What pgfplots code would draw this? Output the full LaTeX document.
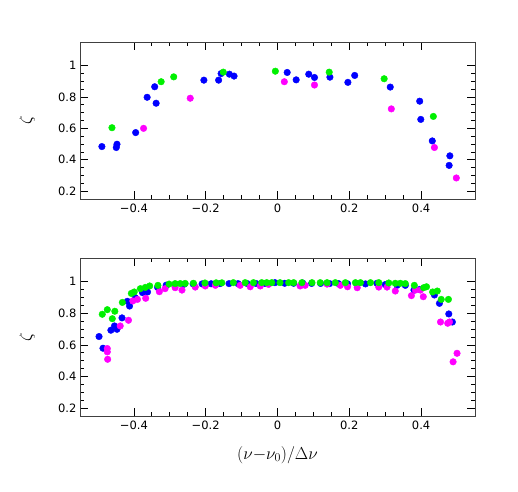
\documentclass[border=0pt]{standalone}
\usepackage{fontspec}
\setmainfont{DejaVu Sans}
\usepackage{pgfplots}
\pgfplotsset{compat=1.18}
\definecolor{pblue}{RGB}{0,0,255}
\definecolor{pgreen}{RGB}{0,240,0}
\definecolor{pmag}{RGB}{255,0,255}
\pgfplotsset{
  panel/.style={
    scale only axis, width=395pt, height=157pt,
    xmin=-0.55, xmax=0.55, ymin=0.15, ymax=1.15,
    xtick={-0.4,-0.2,0,0.2,0.4},
    xticklabels={−0.4,−0.2,0,0.2,0.4},
    ytick={0.2,0.4,0.6,0.8,1},
    yticklabels={0.2,0.4,0.6,0.8,1},
    minor x tick num=3, minor y tick num=3,
    major tick length=8pt, minor tick length=4pt,
    tick align=inside,
    tick style={black, line width=0.7pt},
    axis line style={line width=0.9pt, black!75},
    tick label style={font=\fontsize{11.5}{13}\selectfont},
    xticklabel style={yshift=-1pt},
    /pgf/number format/assume math mode=true,
    ylabel={$\zeta$},
    ylabel style={font=\fontsize{18}{20}\selectfont, at={(axis description cs:-0.134,0.5)}, anchor=center},
    every axis plot/.append style={only marks, mark=*, mark size=3.3pt},
  },
}
\begin{document}
\begin{tikzpicture}
\useasboundingbox (0,0) rectangle (518pt,-491pt);
% top panel
\begin{axis}[panel, at={(80pt,-199pt)}, anchor=south west]
\addplot[pblue, mark options={fill=pblue, draw=pblue}] coordinates {
(-0.489,0.484) (-0.447,0.499) (-0.449,0.478) (-0.395,0.573) (-0.363,0.798)
(-0.342,0.865) (-0.338,0.760) (-0.205,0.907) (-0.164,0.907) (-0.157,0.949)
(-0.134,0.945) (-0.121,0.933) (0.027,0.956) (0.052,0.909) (0.087,0.945)
(0.103,0.924) (0.146,0.926) (0.196,0.893) (0.215,0.937) (0.314,0.863)
(0.396,0.773) (0.399,0.657) (0.431,0.520) (0.480,0.425) (0.478,0.364)
};
\addplot[pmag, mark options={fill=pmag, draw=pmag}] coordinates {
(-0.373,0.600) (-0.243,0.792) (0.019,0.897) (0.103,0.876) (0.317,0.724)
(0.437,0.478) (0.498,0.284)
};
\addplot[pgreen, mark options={fill=pgreen, draw=pgreen}] coordinates {
(-0.461,0.604) (-0.324,0.897) (-0.289,0.928) (-0.151,0.958) (-0.006,0.964)
(0.144,0.958) (0.297,0.916) (0.434,0.676)
};
\end{axis}
% bottom panel
\begin{axis}[panel, at={(80pt,-416pt)}, anchor=south west,
  height=158pt,
  xlabel={$(\nu{-}\nu_0)/\Delta\nu$},
  xlabel style={font=\fontsize{18}{20}\selectfont, at={(axis description cs:0.5,-0.247)}, anchor=center}]
\addplot[pblue, mark options={fill=pblue, draw=pblue}] coordinates {
(-0.497,0.653) (-0.486,0.579) (-0.464,0.693) (-0.454,0.720) (-0.447,0.699)
(-0.433,0.771) (-0.418,0.876) (-0.412,0.846) (-0.396,0.899) (-0.376,0.931)
(-0.362,0.935) (-0.334,0.964) (-0.310,0.978) (-0.285,0.982) (-0.260,0.984)
(-0.235,0.986) (-0.210,0.986) (-0.185,0.987) (-0.160,0.988) (-0.135,0.988)
(-0.110,0.988) (-0.085,0.989) (-0.060,0.989) (-0.035,0.989) (-0.007,0.994)
(0.020,0.990) (0.045,0.990) (0.070,0.992) (0.095,0.989) (0.120,0.989)
(0.145,0.988) (0.170,0.988) (0.195,0.987) (0.220,0.987) (0.245,0.986)
(0.277,0.990) (0.300,0.982) (0.333,0.977) (0.356,0.977) (0.380,0.947)
(0.396,0.951) (0.437,0.916) (0.451,0.863) (0.477,0.796) (0.487,0.745)
};
\addplot[pmag, mark options={fill=pmag, draw=pmag}] coordinates {
(-0.474,0.577) (-0.474,0.556) (-0.473,0.509) (-0.438,0.720) (-0.415,0.756)
(-0.403,0.878) (-0.390,0.888) (-0.367,0.895) (-0.329,0.937) (-0.313,0.956)
(-0.285,0.962) (-0.266,0.947) (-0.229,0.966) (-0.201,0.973) (-0.173,0.977)
(-0.104,0.977) (-0.076,0.968) (-0.048,0.973) (-0.025,0.983) (0.063,0.973)
(0.077,0.977) (0.138,0.985) (0.175,0.977) (0.195,0.968) (0.222,0.962)
(0.282,0.966) (0.305,0.966) (0.328,0.941) (0.373,0.912) (0.384,0.947)
(0.398,0.947) (0.406,0.905) (0.454,0.745) (0.474,0.737) (0.479,0.745)
(0.489,0.493) (0.500,0.547)
};
\addplot[pgreen, mark options={fill=pgreen, draw=pgreen}] coordinates {
(-0.488,0.794) (-0.474,0.823) (-0.460,0.766) (-0.453,0.813) (-0.432,0.869)
(-0.407,0.926) (-0.399,0.935) (-0.382,0.956) (-0.368,0.964) (-0.356,0.973)
(-0.333,0.977) (-0.302,0.985) (-0.285,0.988) (-0.271,0.988) (-0.257,0.989)
(-0.234,0.990) (-0.202,0.992) (-0.171,0.993) (-0.155,0.993) (-0.123,0.994)
(-0.090,0.994) (-0.067,0.994) (-0.044,0.994) (-0.030,0.994) (-0.016,0.994)
(0.007,0.994) (0.031,0.994) (0.045,0.994) (0.068,0.994) (0.096,0.994)
(0.119,0.994) (0.138,0.994) (0.161,0.994) (0.189,0.994) (0.217,0.994)
(0.231,0.994) (0.259,0.994) (0.282,0.994) (0.310,0.992) (0.328,0.990)
(0.342,0.990) (0.356,0.988) (0.381,0.977) (0.407,0.962) (0.415,0.968)
(0.432,0.935) (0.445,0.941) (0.456,0.888) (0.476,0.888)
};
\end{axis}
\end{tikzpicture}
\end{document}
